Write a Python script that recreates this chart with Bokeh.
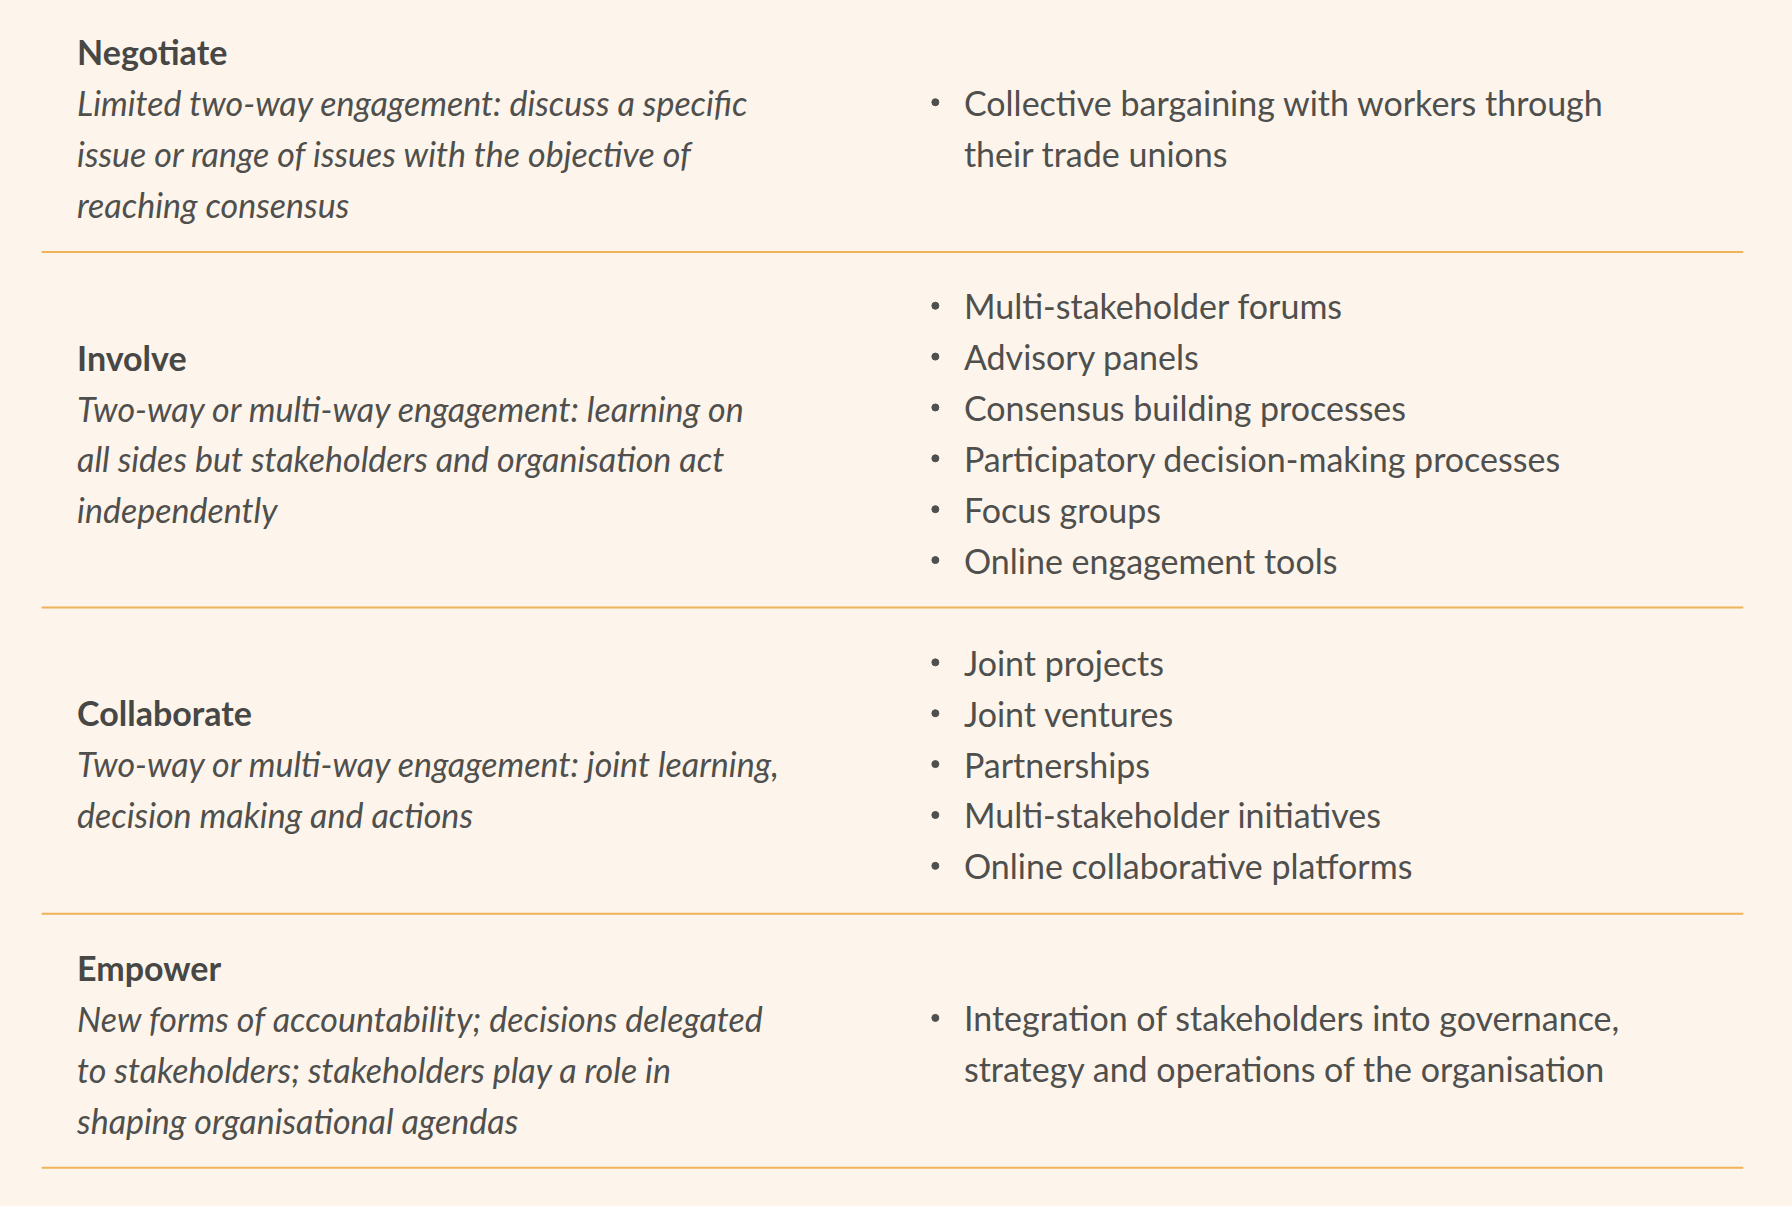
from bokeh.plotting import figure
from bokeh.models import Range1d
from bokeh.core.properties import value
from bokeh.embed import file_html
from bokeh.resources import INLINE

titles = ["Negotiate", "Involve", "Collaborate", "Empower"]
descriptions = [
    ["Limited two-way engagement: discuss a specific",
     "issue or range of issues with the objective of",
     "reaching consensus"],
    ["Two-way or multi-way engagement: learning on",
     "all sides but stakeholders and organisation act",
     "independently"],
    ["Two-way or multi-way engagement: joint learning,",
     "decision making and actions"],
    ["New forms of accountability; decisions delegated",
     "to stakeholders; stakeholders play a role in",
     "shaping organisational agendas"],
]
items = [
    [["Collective bargaining with workers through", "their trade unions"]],
    [["Multi-stakeholder forums"], ["Advisory panels"], ["Consensus building processes"],
     ["Participatory decision-making processes"], ["Focus groups"], ["Online engagement tools"]],
    [["Joint projects"], ["Joint ventures"], ["Partnerships"],
     ["Multi-stakeholder initiatives"], ["Online collaborative platforms"]],
    [["Integration of stakeholders into governance,", "strategy and operations of the organisation"]],
]

# layout (image units of 1568 x 1055)
left_top = [45, 312, 623, 846]
right_top = [89, 267, 579, 890]
rules = [220, 531, 799, 1021]
step = 44.5
W, H = 1776, 1190

BG = "#fdf5eb"
TXT = "#4f4f4d"
FONT = value("Lato")
FS = "34px"

p = figure(width=W, height=H, output_backend="svg", toolbar_location=None,
           x_range=Range1d(0, 1554), y_range=Range1d(1041, 0),
           background_fill_color=BG, border_fill_color=BG, min_border=0)
p.axis.visible = False
p.grid.visible = False
p.outline_line_color = None

tx, ty, tt = [], [], []
dx, dy, dt = [], [], []
rx, ry, rt = [], [], []
bx, by = [], []
for i, t in enumerate(titles):
    tx.append(67); ty.append(left_top[i]); tt.append(t)
    for j, line in enumerate(descriptions[i]):
        dx.append(67); dy.append(left_top[i] + (j + 1) * step); dt.append(line)
    k = 0
    for it in items[i]:
        bx.append(818); by.append(right_top[i] + k * step)
        for line in it:
            rx.append(843); ry.append(right_top[i] + k * step); rt.append(line)
            k += 1

p.text(x=tx, y=ty, text=tt, text_font=FONT, text_font_size=FS, text_font_style="bold",
       text_color="#474745", text_baseline="middle")
p.text(x=dx, y=dy, text=dt, text_font=FONT, text_font_size=FS, text_font_style="italic",
       text_color=TXT, text_baseline="middle")
p.text(x=rx, y=ry, text=rt, text_font=FONT, text_font_size=FS,
       text_color=TXT, text_baseline="middle")
p.scatter(x=bx, y=by, size=7, color=TXT)
p.segment(x0=[36] * len(rules), x1=[1525] * len(rules), y0=rules, y1=rules,
          line_color="#f0b35a", line_width=2)

html = file_html(p, INLINE)
html = html.replace("<head>", "<head><style>body{background:%s;}</style>" % BG, 1)
open("out.html", "w").write(html)
